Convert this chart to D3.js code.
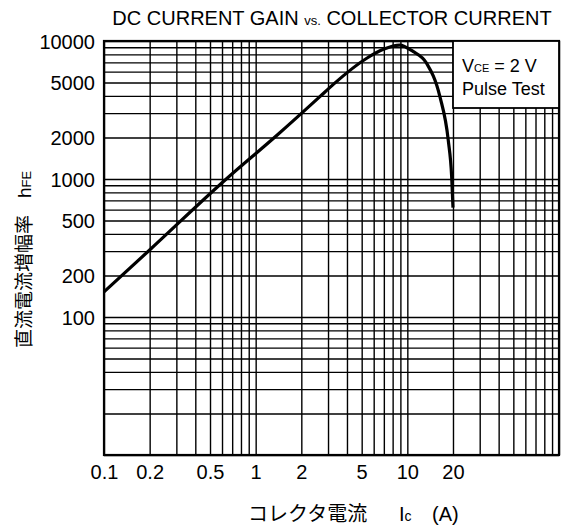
<!DOCTYPE html>
<html>
<head>
<meta charset="utf-8">
<script src="https://cdn.jsdelivr.net/npm/d3@7"></script>
<style>
  html, body { margin: 0; padding: 0; background: #fff; }
  svg { display: block; }
  text { font-family: "Liberation Sans", Arial, Helvetica, sans-serif; fill: #000; }
  .jp { font-family: "Noto Sans CJK JP", "Noto Sans CJK SC", sans-serif; }
</style>
</head>
<body>
<svg id="chart" width="568" height="527"></svg>
<script>
// ---- data ----
const icValues  = [0.1, 0.2, 0.64, 1.4, 2.65, 3.25, 5.4, 6.95, 8.9, 10.9, 13.4, 16.4, 18.6, 19.6, 20];
const hfeValues = [152, 306, 1000, 2100, 3950, 4850, 7500, 8700, 9350, 8400, 6900, 3950, 1920, 1040, 620];
const xTickLabels = [0.1, 0.2, 0.5, 1, 2, 5, 10, 20];
const yTickLabels = [100, 200, 500, 1000, 2000, 5000, 10000];
const xDomain = [0.1, 100];
const yDomain = [10, 10000];
const titleText = ["DC CURRENT GAIN ", "vs.", " COLLECTOR CURRENT"];
const legendLines = [["V", "CE", " = 2 V"], ["Pulse Test"]];
const xTitle = ["コレクタ電流", "I", "c", "(A)"];
const yTitle = ["直流電流増幅率", "h", "FE"];

// ---- layout ----
const L = 104, R = 559, T = 41, B = 455;
const svg = d3.select("#chart");

const x = d3.scaleLog().domain(xDomain).range([L, R]);
const y = d3.scaleLog().domain(yDomain).range([B, T]);

function logMinor(lo, hi) {
  const out = [];
  for (let e = Math.round(Math.log10(lo)); Math.pow(10, e) < hi; e++) {
    for (let k = 1; k <= 9; k++) {
      const v = +(k * Math.pow(10, e)).toPrecision(3);
      if (v >= lo && v <= hi) out.push(v);
    }
  }
  out.push(hi);
  return out;
}
const xGridVals = logMinor(xDomain[0], xDomain[1]);
const yGridVals = logMinor(yDomain[0], yDomain[1]);

// grid via axes
const gx = svg.append("g").attr("transform", `translate(0,${B})`)
  .call(d3.axisBottom(x).tickValues(xGridVals).tickSize(-(B - T)).tickFormat(""));
gx.select(".domain").remove();
gx.selectAll("line").attr("stroke", "#000").attr("stroke-width", 1.4);

const gy = svg.append("g").attr("transform", `translate(${L},0)`)
  .call(d3.axisLeft(y).tickValues(yGridVals).tickSize(-(R - L)).tickFormat(""));
gy.select(".domain").remove();
gy.selectAll("line").attr("stroke", "#000").attr("stroke-width", 1.4);

// frame
svg.append("rect").attr("x", L).attr("y", T).attr("width", R - L).attr("height", B - T)
  .attr("fill", "none").attr("stroke", "#000").attr("stroke-width", 2.2);

// tick labels
const ax = svg.append("g").attr("transform", `translate(0,${B})`)
  .call(d3.axisBottom(x).tickValues(xTickLabels).tickSize(0).tickPadding(24)
        .tickFormat(d => String(d)));
ax.select(".domain").remove();
ax.selectAll("text").attr("font-size", 20).attr("dy", 0)
  .attr("font-family", "Liberation Sans, Arial, sans-serif");

const ay = svg.append("g").attr("transform", `translate(${L},0)`)
  .call(d3.axisLeft(y).tickValues(yTickLabels).tickSize(0).tickPadding(9)
        .tickFormat(d3.format("d")));
ay.select(".domain").remove();
ay.selectAll("text").attr("font-size", 20).attr("dy", "0.36em")
  .attr("font-family", "Liberation Sans, Arial, sans-serif");

// curve
const pts = icValues.map((v, i) => [x(v), y(hfeValues[i])]);
svg.append("path")
  .attr("d", d3.line().curve(d3.curveMonotoneX)(pts))
  .attr("fill", "none").attr("stroke", "#000").attr("stroke-width", 3.2)
  .attr("stroke-linejoin", "round");

// legend box
svg.append("rect").attr("x", 453).attr("y", T).attr("width", R - 453).attr("height", 67)
  .attr("fill", "#fff").attr("stroke", "#000").attr("stroke-width", 1.8);
const lg1 = svg.append("text").attr("x", 462).attr("y", 72).attr("font-size", 18);
lg1.append("tspan").text(legendLines[0][0]);
lg1.append("tspan").attr("font-size", 11).text(legendLines[0][1]);
lg1.append("tspan").text(legendLines[0][2]);
svg.append("text").attr("x", 462).attr("y", 95).attr("font-size", 18).text(legendLines[1][0]);

// title
const tt = svg.append("text").attr("x", 332).attr("y", 25).attr("text-anchor", "middle")
  .attr("font-size", 20);
tt.append("tspan").text(titleText[0]);
tt.append("tspan").attr("font-size", 13).text(titleText[1]);
tt.append("tspan").text(titleText[2]);

// x title
const xt = svg.append("text").attr("y", 521).attr("font-size", 20);
xt.append("tspan").attr("x", 248).attr("class", "jp").text(xTitle[0]);
xt.append("tspan").attr("x", 399).text(xTitle[1]);
xt.append("tspan").attr("font-size", 14).text(xTitle[2]);
xt.append("tspan").attr("x", 432).text(xTitle[3]);

// y title (rotated)
const yt = svg.append("text").attr("transform", "translate(31,348) rotate(-90)").attr("font-size", 19);
yt.append("tspan").attr("x", 0).attr("class", "jp").text(yTitle[0]);
yt.append("tspan").attr("x", 150).text(yTitle[1]);
yt.append("tspan").attr("font-size", 13).text(yTitle[2]);
</script>
</body>
</html>
